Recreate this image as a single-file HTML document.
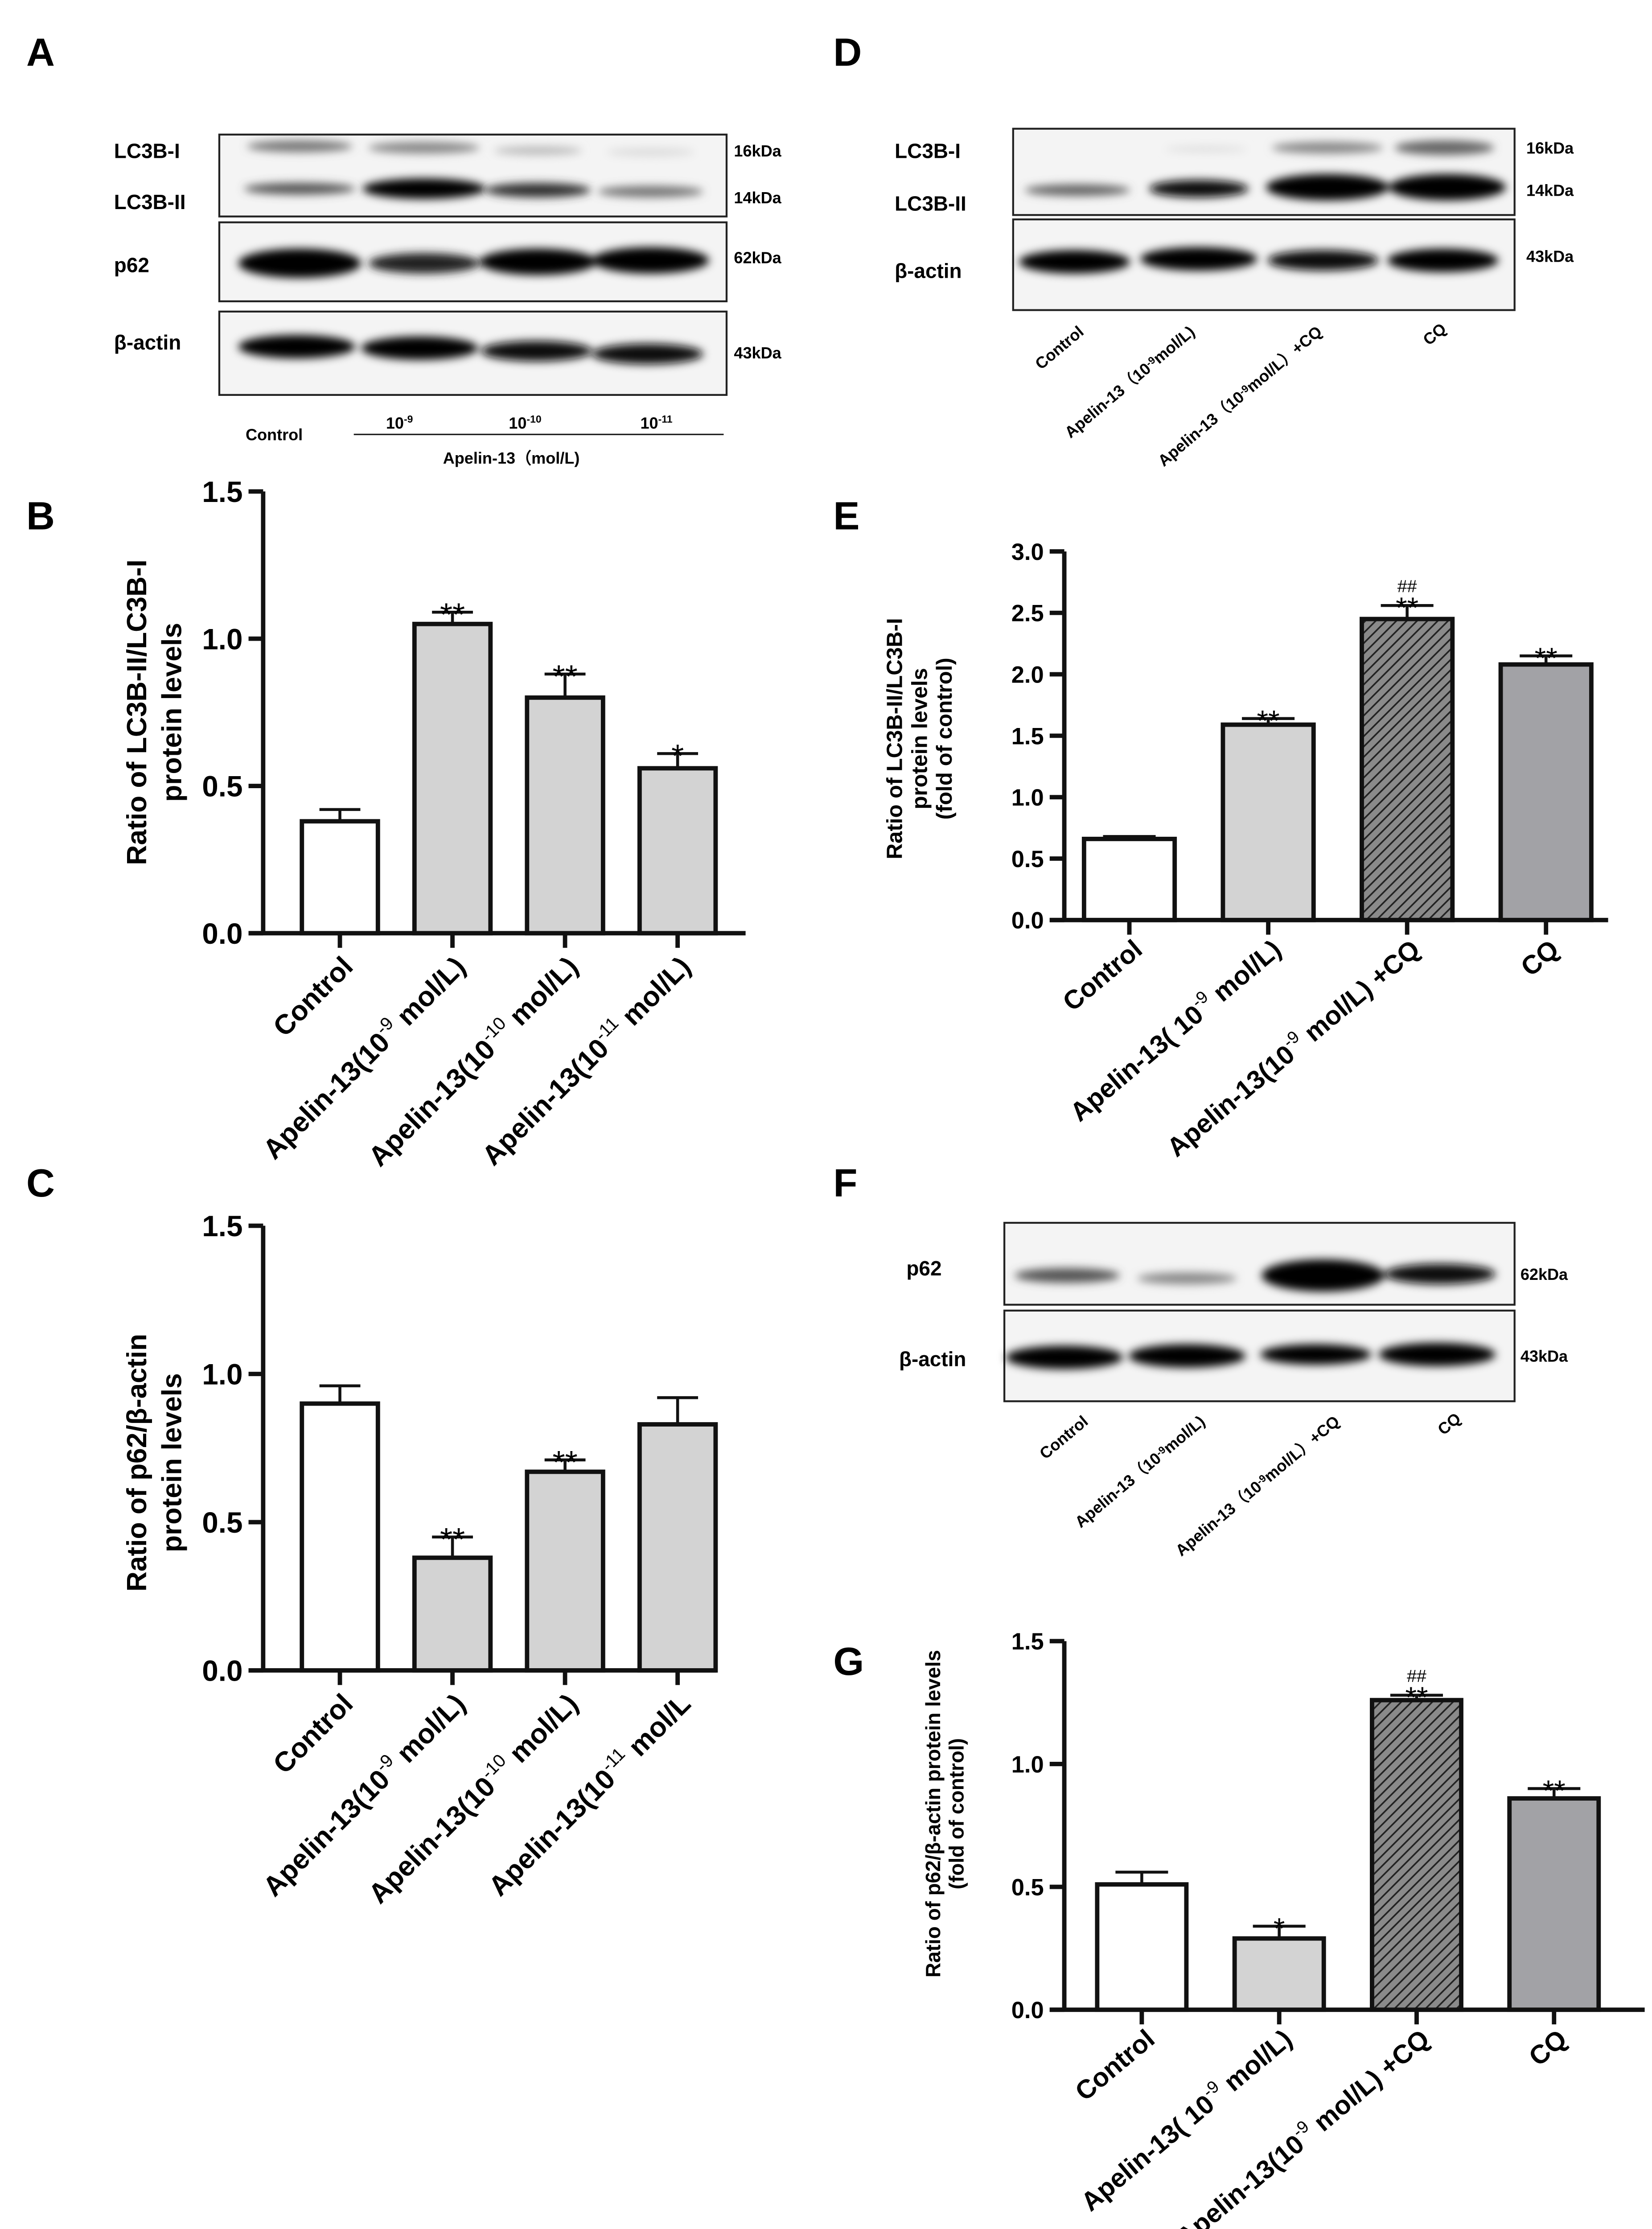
<!DOCTYPE html>
<html><head><meta charset="utf-8"><style>
html,body{margin:0;padding:0;background:#fff;width:3706px;height:5125px;overflow:hidden;}
svg{display:block;font-family:"Liberation Sans",Arial,sans-serif;}
.lbl{font-weight:bold;font-size:27px;}
.bl{font-weight:bold;font-size:14px;}
.kd{font-weight:bold;font-size:11px;}
.small{font-weight:bold;font-size:11px;}
</style></head><body>
<svg id="fig" width="3706" height="5125" viewBox="0 0 1130 1562" preserveAspectRatio="none" xmlns="http://www.w3.org/2000/svg">
<defs>
<filter id="blur" x="-20%" y="-100%" width="140%" height="300%"><feGaussianBlur stdDeviation="3"/></filter>
<pattern id="hatch" width="5" height="5" patternUnits="userSpaceOnUse" patternTransform="rotate(45)">
<rect width="5" height="5" fill="#8a8a8a"/><line x1="0" y1="0" x2="0" y2="5" stroke="#222" stroke-width="2.2"/></pattern>
</defs>

<text class="lbl" x="18" y="45">A</text>
<text class="lbl" x="18" y="362">B</text>
<text class="lbl" x="18" y="818">C</text>
<text class="lbl" x="570" y="45">D</text>
<text class="lbl" x="570" y="362">E</text>
<text class="lbl" x="570" y="818">F</text>
<text class="lbl" x="570" y="1145">G</text>

<g>
<rect x="150" y="92" width="347" height="56" fill="#f4f4f4" stroke="#222" stroke-width="1.3"/>
<rect x="150" y="152" width="347" height="54" fill="#f4f4f4" stroke="#222" stroke-width="1.3"/>
<rect x="150" y="213" width="347" height="57" fill="#f4f4f4" stroke="#222" stroke-width="1.3"/>
<g filter="url(#blur)">
<ellipse cx="205" cy="100" rx="36" ry="4" fill="#777"/><ellipse cx="290" cy="101" rx="38" ry="4" fill="#888"/><ellipse cx="368" cy="103" rx="30" ry="3" fill="#bbb"/><ellipse cx="445" cy="104" rx="30" ry="3" fill="#ddd"/>
<ellipse cx="205" cy="129" rx="38" ry="4" fill="#555"/><ellipse cx="290" cy="129" rx="42" ry="7" fill="#000"/><ellipse cx="368" cy="130" rx="36" ry="5" fill="#333"/><ellipse cx="445" cy="131" rx="36" ry="4" fill="#777"/>
<ellipse cx="205" cy="180" rx="42" ry="10" fill="#000"/><ellipse cx="290" cy="180" rx="38" ry="7" fill="#222"/><ellipse cx="368" cy="179" rx="40" ry="9" fill="#000"/><ellipse cx="445" cy="178" rx="40" ry="9" fill="#000"/>
<ellipse cx="203" cy="237" rx="40" ry="8" fill="#000"/><ellipse cx="287" cy="238" rx="40" ry="8" fill="#000"/><ellipse cx="367" cy="240" rx="38" ry="7" fill="#111"/><ellipse cx="443" cy="242" rx="38" ry="7" fill="#111"/>
</g>
<text class="bl" x="78" y="108">LC3B-I</text><text class="bl" x="78" y="143">LC3B-II</text>
<text class="bl" x="78" y="186">p62</text><text class="bl" x="78" y="239">β-actin</text>
<text class="kd" x="502" y="107">16kDa</text><text class="kd" x="502" y="139">14kDa</text>
<text class="kd" x="502" y="180">62kDa</text><text class="kd" x="502" y="245">43kDa</text>
<text class="small" x="168" y="301">Control</text>
<text class="small" x="264" y="293">10<tspan font-size="7" dy="-4">-9</tspan></text>
<text class="small" x="348" y="293">10<tspan font-size="7" dy="-4">-10</tspan></text>
<text class="small" x="438" y="293">10<tspan font-size="7" dy="-4">-11</tspan></text>
<line x1="242" y1="297" x2="495" y2="297" stroke="#222" stroke-width="1"/>
<text class="small" x="303" y="317">Apelin-13（mol/L)</text>
</g>

<g>
<rect x="693" y="88" width="343" height="59" fill="#f4f4f4" stroke="#222" stroke-width="1.3"/>
<rect x="693" y="150" width="343" height="62" fill="#f4f4f4" stroke="#222" stroke-width="1.3"/>
<g filter="url(#blur)">
<ellipse cx="825" cy="102" rx="28" ry="2" fill="#ddd"/><ellipse cx="908" cy="101" rx="38" ry="4" fill="#888"/><ellipse cx="988" cy="101" rx="34" ry="5" fill="#666"/>
<ellipse cx="737" cy="130" rx="36" ry="4" fill="#666"/><ellipse cx="820" cy="129" rx="34" ry="6" fill="#111"/><ellipse cx="908" cy="128" rx="42" ry="9" fill="#000"/><ellipse cx="990" cy="128" rx="40" ry="9" fill="#000"/>
<ellipse cx="735" cy="179" rx="38" ry="8" fill="#000"/><ellipse cx="820" cy="177" rx="40" ry="8" fill="#000"/><ellipse cx="905" cy="178" rx="38" ry="7" fill="#111"/><ellipse cx="987" cy="178" rx="38" ry="8" fill="#000"/>
</g>
<text class="bl" x="612" y="108">LC3B-I</text><text class="bl" x="612" y="144">LC3B-II</text><text class="bl" x="612" y="190">β-actin</text>
<text class="kd" x="1044" y="105">16kDa</text><text class="kd" x="1044" y="134">14kDa</text><text class="kd" x="1044" y="179">43kDa</text>
<g class="small" font-size="11.5">
<text transform="translate(742,228) rotate(-40)" text-anchor="end">Control</text>
<text transform="translate(818,228) rotate(-40)" text-anchor="end">Apelin-13（10<tspan font-size="7" dy="-3">-9</tspan><tspan dy="3">mol/L)</tspan></text>
<text transform="translate(905,228) rotate(-40)" text-anchor="end">Apelin-13（10<tspan font-size="7" dy="-3">-9</tspan><tspan dy="3">mol/L）+CQ</tspan></text>
<text transform="translate(990,226) rotate(-40)" text-anchor="end">CQ</text>
</g>
</g>

<g>
<rect x="687" y="836" width="349" height="56" fill="#f4f4f4" stroke="#222" stroke-width="1.3"/>
<rect x="687" y="896" width="349" height="62" fill="#f4f4f4" stroke="#222" stroke-width="1.3"/>
<g filter="url(#blur)">
<ellipse cx="730" cy="872" rx="36" ry="5" fill="#555"/><ellipse cx="812" cy="874" rx="34" ry="4" fill="#888"/><ellipse cx="905" cy="872" rx="42" ry="11" fill="#000"/><ellipse cx="985" cy="871" rx="38" ry="7" fill="#111"/>
<ellipse cx="728" cy="928" rx="40" ry="8" fill="#000"/><ellipse cx="812" cy="927" rx="40" ry="8" fill="#000"/><ellipse cx="900" cy="926" rx="38" ry="7" fill="#000"/><ellipse cx="983" cy="926" rx="40" ry="8" fill="#000"/>
</g>
<text class="bl" x="620" y="872">p62</text><text class="bl" x="615" y="934">β-actin</text>
<text class="kd" x="1040" y="875">62kDa</text><text class="kd" x="1040" y="931">43kDa</text>
<g class="small" font-size="11.5">
<text transform="translate(745,973) rotate(-40)" text-anchor="end">Control</text>
<text transform="translate(825,973) rotate(-40)" text-anchor="end">Apelin-13（10<tspan font-size="7" dy="-3">-9</tspan><tspan dy="3">mol/L)</tspan></text>
<text transform="translate(917,973) rotate(-40)" text-anchor="end">Apelin-13（10<tspan font-size="7" dy="-3">-9</tspan><tspan dy="3">mol/L）+CQ</tspan></text>
<text transform="translate(1000,971) rotate(-40)" text-anchor="end">CQ</text>
</g>
</g>

<g id="chartB"></g>
<g id="chartC"></g>
<g id="chartE"></g>
<g id="chartG"></g>
</svg>
<script>
const bCategories = ["Control", "Apelin-13(10-9 mol/L)", "Apelin-13(10-10 mol/L)", "Apelin-13(10-11 mol/L)"];
const bValues = [0.38, 1.05, 0.80, 0.56];
const bErrors = [0.04, 0.04, 0.08, 0.05];
const bMarks = ["", "**", "**", "*"];
const bTicks = [0, 0.5, 1.0, 1.5];

const cCategories = ["Control", "Apelin-13(10-9 mol/L)", "Apelin-13(10-10 mol/L)", "Apelin-13(10-11 mol/L"];
const cValues = [0.90, 0.38, 0.67, 0.83];
const cErrors = [0.06, 0.07, 0.04, 0.09];
const cMarks = ["", "**", "**", ""];
const cTicks = [0, 0.5, 1.0, 1.5];

const eCategories = ["Control", "Apelin-13( 10-9 mol/L)", "Apelin-13(10-9 mol/L) +CQ", "CQ"];
const eValues = [0.66, 1.59, 2.45, 2.08];
const eErrors = [0.02, 0.05, 0.11, 0.07];
const eMarks = ["", "**", "**", "**"];
const eHash = ["", "", "##", ""];
const eTicks = [0, 0.5, 1.0, 1.5, 2.0, 2.5, 3.0];

const gCategories = ["Control", "Apelin-13( 10-9 mol/L)", "Apelin-13(10-9 mol/L) +CQ", "CQ"];
const gValues = [0.51, 0.29, 1.26, 0.86];
const gErrors = [0.05, 0.05, 0.02, 0.04];
const gMarks = ["", "*", "**", "**"];
const gHash = ["", "", "##", ""];
const gTicks = [0, 0.5, 1.0, 1.5];

const NS = "http://www.w3.org/2000/svg";
function mk(parent, tag, attrs) {
  const e = document.createElementNS(NS, tag);
  for (const k in attrs) e.setAttribute(k, attrs[k]);
  parent.appendChild(e);
  return e;
}
function labelText(t, s) {
  const m = s.match(/^(.*?10)(-\d+)(.*)$/);
  if (!m) { t.textContent = s; return; }
  t.appendChild(document.createTextNode(m[1]));
  const sup = document.createElementNS(NS, "tspan");
  sup.setAttribute("dy", "-8"); sup.setAttribute("font-size", "0.65em"); sup.setAttribute("font-weight", "normal");
  sup.textContent = m[2];
  t.appendChild(sup);
  const rest = document.createElementNS(NS, "tspan");
  rest.setAttribute("dy", "8");
  rest.textContent = " " + m[3].trim();
  t.appendChild(rest);
}
function drawChart(g, o) {
  const y = v => o.y0 - v / o.max * (o.y0 - o.yTop);
  const x = i => o.x0 + o.pad + (i + 0.5) * o.step;
  const ya = mk(g, "line", {x1:o.x0, y1:o.yTop, x2:o.x0, y2:o.y0, stroke:"#111", "stroke-width":3});
  
  
  const xa = mk(g, "line", {x1:o.x0 - 10, y1:o.y0, x2:o.xEnd, y2:o.y0, stroke:"#111", "stroke-width":3});
  
  
  o.ticks.forEach(tv => {
    const yy = y(tv);
    const tl = mk(g, "line", {x1:o.x0 - 10, y1:yy, x2:o.x0, y2:yy, stroke:"#111", "stroke-width":3});
    
    
    const tt = mk(g, "text", {x:o.x0 - 14, y:yy + o.tickFs * 0.36, "text-anchor":"end", "font-weight":"bold", "font-size":o.tickFs});
    
    
    tt.textContent = tv.toFixed(1);
  });
  o.vals.forEach((v, i) => {
    const cx = x(i), w = o.bw;
    const r = mk(g, "rect", {x:cx - w/2, y:y(v), width:w, height:o.y0 - y(v), fill:o.fills[i], stroke:"#111", "stroke-width":3});
    
    
    const et = y(v + o.errs[i]);
    const e1 = mk(g, "line", {x1:cx, y1:y(v), x2:cx, y2:et, stroke:"#111", "stroke-width":2});
    
    
    const e2 = mk(g, "line", {x1:cx - o.capW, y1:et, x2:cx + o.capW, y2:et, stroke:"#111", "stroke-width":2});
    
    
    if (o.marks[i]) {
      const s = mk(g, "text", {x:cx, y:et + o.starFs * 0.42, "text-anchor":"middle", "font-size":o.starFs});
      
      
      s.textContent = o.marks[i];
    }
    if (o.hash && o.hash[i]) {
      const h = mk(g, "text", {x:cx, y:et - o.starFs * 0.45, "text-anchor":"middle", "font-size":o.starFs * 0.6});
      
      
      h.textContent = o.hash[i];
    }
    const tk = mk(g, "line", {x1:cx, y1:o.y0, x2:cx, y2:o.y0 + 10, stroke:"#111", "stroke-width":3});
    
    
    const lt = mk(g, "text", {transform:`translate(${cx + o.lblDx},${o.y0 + o.lblDy}) rotate(${o.rot})`, "text-anchor":"end", "font-weight":"bold", "font-size":o.xFs});
    
    
    labelText(lt, o.cats[i]);
  });
  o.title.forEach((line, k) => {
    const t = mk(g, "text", {transform:`translate(${o.titleX + k * o.titleGap},${o.titleY}) rotate(-90)`, "text-anchor":"middle", "font-weight":"bold", "font-size":o.titleFs});
    
    
    t.textContent = line;
  });
}
const g1 = ["#fff", "#d3d3d3", "#d3d3d3", "#d3d3d3"];
const g2 = ["#fff", "#d3d3d3", "url(#hatch)", "#a2a2a6"];
drawChart(document.getElementById("chartB"), {cats:bCategories, vals:bValues, errs:bErrors, marks:bMarks, ticks:bTicks, max:1.5,
  x0:180, y0:638, yTop:336, xEnd:510, pad:14, step:77, bw:52, fills:g1, capW:14, starFs:22, tickFs:20, xFs:19, rot:-45, lblDx:10, lblDy:24,
  title:["Ratio of LC3B-II/LC3B-I", "protein levels"], titleX:100, titleGap:24, titleY:487, titleFs:19});
drawChart(document.getElementById("chartC"), {cats:cCategories, vals:cValues, errs:cErrors, marks:cMarks, ticks:cTicks, max:1.5,
  x0:180, y0:1142, yTop:838, xEnd:490, pad:14, step:77, bw:52, fills:g1, capW:14, starFs:22, tickFs:20, xFs:19, rot:-45, lblDx:10, lblDy:24,
  title:["Ratio of p62/β-actin", "protein levels"], titleX:100, titleGap:24, titleY:1000, titleFs:19});
drawChart(document.getElementById("chartE"), {cats:eCategories, vals:eValues, errs:eErrors, marks:eMarks, hash:eHash, ticks:eTicks, max:3.0,
  x0:728, y0:629, yTop:377, xEnd:1100, pad:-3, step:95, bw:62, fills:g2, capW:18, starFs:20, tickFs:16, xFs:18, rot:-40, lblDx:10, lblDy:22,
  title:["Ratio of LC3B-II/LC3B-I", "protein levels", "(fold of control)"], titleX:617, titleGap:17, titleY:505, titleFs:15});
drawChart(document.getElementById("chartG"), {cats:gCategories, vals:gValues, errs:gErrors, marks:gMarks, hash:gHash, ticks:gTicks, max:1.5,
  x0:728, y0:1374, yTop:1122, xEnd:1125, pad:6, step:94, bw:61, fills:g2, capW:18, starFs:20, tickFs:16, xFs:18, rot:-40, lblDx:10, lblDy:22,
  title:["Ratio of p62/β-actin protein levels", "(fold of control)"], titleX:643, titleGap:16, titleY:1240, titleFs:14});
</script>
</body></html>
